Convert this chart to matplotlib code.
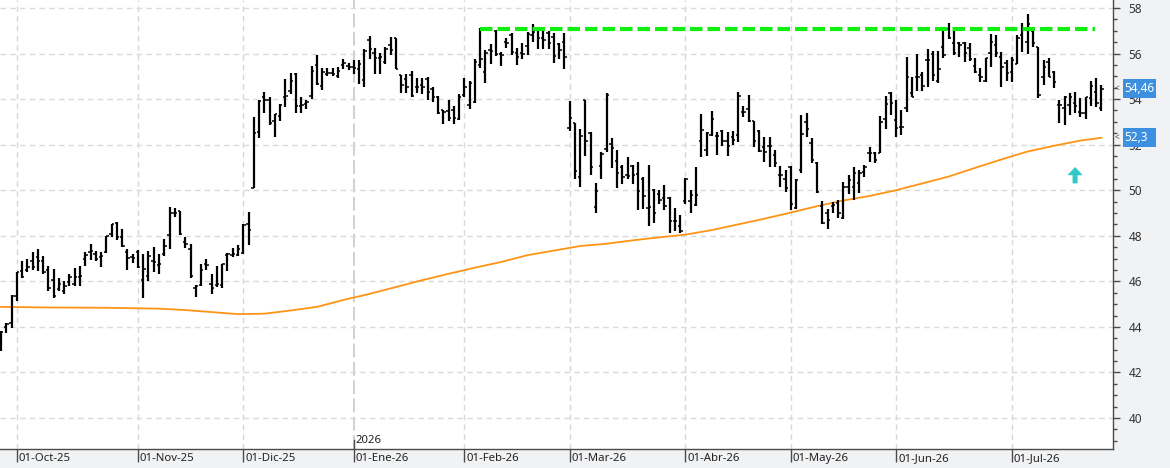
import matplotlib
matplotlib.use("Agg")
import matplotlib.pyplot as plt
import matplotlib.transforms as mtransforms
from matplotlib.patches import Rectangle
from matplotlib.ticker import MultipleLocator

plt.rcParams['font.family'] = ['Noto Sans', 'DejaVu Sans']

# daily OHLC, one bar per trading day (26-Sep-25 .. 24-Jul-26)
opens = [
    42.98, 44.00, 44.15, 45.35, 46.45, 46.49, 46.90, 47.08, 46.90, 46.49,
    46.05, 45.66, 45.58, 45.95, 45.88, 46.20, 46.98, 47.30, 47.20, 47.08,
    47.30, 48.07, 48.56, 47.93, 47.27, 47.05, 47.30, 46.05, 46.24, 46.90,
    46.73, 47.20, 48.03, 48.98, 49.07, 47.71, 47.43, 45.72, 45.82, 46.78,
    45.90, 45.82, 45.82, 47.14, 47.14, 47.14, 47.26, 48.50, 50.11, 52.56,
    54.07, 53.95, 53.03, 53.25, 54.07, 54.36, 55.12, 53.69, 53.80, 54.14,
    55.49, 54.57, 55.09, 55.15, 55.00, 55.49, 55.44, 55.41, 55.30, 54.86,
    56.61, 56.04, 55.81, 55.63, 56.37, 56.69, 55.05, 54.90, 55.05, 54.54,
    54.61, 54.90, 54.46, 54.07, 53.51, 53.48, 53.54, 53.14, 54.17, 53.73,
    53.88, 55.49, 55.17, 56.15, 56.99, 56.00, 56.51, 56.80, 56.03, 56.03,
    56.32, 56.80, 57.10, 56.66, 56.88, 56.73, 56.44, 56.51, 52.73, 52.95,
    50.60, 53.94, 52.51, 49.26, 51.07, 51.80, 52.04, 51.29, 51.01, 50.68,
    51.07, 50.72, 50.49, 49.21, 50.02, 49.83, 49.68, 49.65, 48.66, 48.45,
    49.51, 49.51, 49.36, 52.17, 51.77, 52.43, 52.39, 52.58, 52.17, 52.32,
    52.43, 53.43, 53.56, 53.02, 52.62, 51.91, 51.94, 51.55, 50.67, 50.48,
    51.04, 49.21, 50.89, 53.01, 52.06, 51.21, 49.31, 48.99, 49.31, 49.46,
    48.77, 50.16, 50.16, 50.31, 50.82, 51.65, 51.62, 51.62, 53.11, 54.28,
    53.08, 52.79, 53.59, 54.28, 54.98, 55.05, 55.71, 56.00, 54.80, 56.30,
    57.06, 56.48, 56.48, 56.45, 56.23, 55.45, 55.06, 54.81, 56.01, 56.37,
    55.83, 55.57, 55.20, 55.54, 56.81, 56.52, 57.00, 56.30, 54.95, 55.64,
    55.20, 53.74, 53.59, 53.74, 53.81, 53.45, 53.40, 54.03, 54.33, 53.59,
]
highs = [
    43.80, 44.15, 45.39, 46.42, 46.90, 46.98, 47.30, 47.44, 47.12, 46.68,
    46.54, 46.14, 46.03, 46.32, 46.60, 46.67, 47.27, 47.66, 47.34, 47.27,
    48.00, 48.51, 48.62, 48.29, 47.41, 47.20, 47.37, 47.20, 47.34, 47.52,
    47.20, 47.85, 49.27, 49.22, 49.10, 47.93, 47.63, 45.82, 46.78, 47.00,
    46.34, 46.67, 46.75, 47.26, 47.48, 47.61, 48.50, 49.03, 53.22, 53.95,
    54.32, 54.08, 53.36, 53.77, 54.90, 55.15, 55.15, 54.10, 53.95, 55.44,
    55.93, 55.37, 55.37, 55.37, 55.41, 55.75, 55.59, 55.71, 55.71, 56.22,
    56.76, 56.26, 56.03, 56.29, 56.73, 56.70, 55.05, 55.12, 55.24, 54.93,
    54.93, 54.95, 54.51, 54.13, 53.54, 53.95, 53.69, 54.24, 54.93, 54.78,
    55.78, 57.13, 56.15, 56.44, 57.03, 56.07, 56.66, 56.88, 56.26, 56.47,
    56.95, 57.29, 57.14, 57.10, 56.99, 56.91, 56.47, 56.88, 53.93, 52.97,
    52.68, 53.97, 52.54, 50.31, 51.66, 54.26, 52.29, 51.77, 51.12, 51.45,
    51.12, 51.26, 50.60, 51.12, 50.05, 50.02, 50.24, 49.72, 49.24, 48.92,
    50.53, 49.99, 51.00, 53.36, 52.54, 53.49, 52.54, 52.65, 52.54, 52.61,
    54.31, 53.68, 54.19, 53.06, 52.65, 52.32, 52.32, 51.77, 51.07, 50.89,
    51.07, 50.48, 53.30, 53.37, 52.28, 51.26, 49.53, 49.17, 49.50, 49.58,
    50.35, 50.67, 51.04, 50.89, 51.11, 51.88, 51.69, 53.26, 54.13, 54.32,
    53.96, 53.52, 55.85, 54.98, 55.97, 55.20, 56.18, 56.12, 56.12, 57.03,
    57.36, 57.03, 56.52, 56.52, 56.45, 55.79, 55.35, 55.79, 56.86, 56.81,
    56.08, 55.72, 55.86, 56.81, 57.33, 57.74, 57.00, 56.30, 55.72, 55.79,
    55.23, 53.96, 54.13, 54.28, 54.31, 54.03, 54.11, 54.79, 54.91, 54.62,
]
lows = [
    42.95, 43.75, 43.97, 45.15, 46.14, 46.39, 46.49, 46.46, 46.32, 45.58,
    45.29, 45.58, 45.44, 45.80, 45.78, 45.78, 46.68, 46.95, 46.90, 46.64,
    47.23, 47.93, 47.83, 47.49, 46.51, 46.79, 46.58, 45.25, 46.03, 46.39,
    46.32, 47.12, 47.44, 48.81, 48.03, 47.46, 46.16, 45.31, 45.79, 46.51,
    45.43, 45.75, 45.71, 46.45, 47.07, 47.11, 47.21, 47.61, 50.11, 52.31,
    53.39, 52.88, 52.34, 53.04, 53.66, 54.24, 53.39, 53.39, 53.55, 53.99,
    54.64, 54.42, 55.02, 55.02, 54.93, 55.34, 55.27, 55.12, 54.68, 54.54,
    55.74, 55.12, 55.12, 55.52, 55.93, 55.30, 54.27, 54.27, 54.07, 54.27,
    54.24, 53.95, 53.88, 53.34, 52.90, 53.04, 52.90, 53.10, 54.07, 53.58,
    53.85, 55.38, 54.71, 55.56, 55.88, 55.44, 56.25, 55.93, 55.49, 55.78,
    55.93, 56.51, 56.22, 56.22, 56.22, 55.59, 55.74, 55.30, 52.58, 50.50,
    50.16, 51.51, 50.68, 49.01, 50.50, 51.66, 50.98, 50.08, 50.28, 50.51,
    50.28, 49.14, 49.17, 48.41, 48.58, 49.40, 49.11, 48.14, 48.19, 48.11,
    49.40, 49.02, 49.29, 51.48, 51.51, 52.36, 51.56, 51.92, 51.51, 51.99,
    52.10, 53.21, 52.99, 51.89, 51.66, 51.26, 51.04, 51.04, 50.16, 49.90,
    49.14, 49.17, 50.74, 52.32, 51.18, 49.87, 48.53, 48.29, 48.99, 48.77,
    48.73, 49.84, 49.58, 49.87, 50.60, 51.26, 51.18, 51.62, 52.67, 53.30,
    52.35, 52.42, 53.45, 54.07, 54.35, 54.37, 54.54, 54.79, 54.69, 55.79,
    56.62, 55.94, 55.86, 55.64, 55.69, 55.13, 54.76, 54.76, 55.42, 55.86,
    54.54, 54.81, 54.76, 55.53, 56.08, 55.97, 56.30, 54.03, 54.62, 54.95,
    54.47, 52.96, 52.86, 53.30, 53.37, 53.20, 53.11, 53.70, 53.67, 53.49,
]
closes = [
    43.77, 44.12, 45.37, 46.39, 46.20, 46.64, 46.64, 46.90, 46.42, 45.70,
    45.37, 45.88, 45.80, 46.17, 46.17, 46.24, 47.15, 47.34, 46.98, 47.12,
    48.00, 48.51, 47.93, 47.56, 47.01, 47.01, 46.61, 46.54, 47.12, 46.83,
    46.74, 47.56, 48.98, 48.98, 48.07, 47.63, 46.22, 45.79, 46.51, 46.70,
    45.72, 45.90, 46.75, 47.21, 47.21, 47.43, 48.49, 48.24, 52.52, 53.92,
    53.95, 52.95, 53.34, 53.73, 54.13, 54.80, 53.69, 53.72, 53.89, 55.24,
    54.68, 55.19, 55.15, 55.12, 55.24, 55.59, 55.41, 55.38, 55.56, 56.10,
    56.22, 55.82, 55.85, 56.18, 56.15, 55.30, 54.61, 54.54, 54.13, 54.54,
    54.51, 54.32, 54.07, 53.39, 53.44, 53.17, 53.19, 54.07, 54.54, 54.71,
    55.63, 55.74, 56.03, 56.12, 55.97, 55.93, 56.47, 56.07, 55.85, 56.00,
    56.85, 56.95, 56.66, 56.59, 56.47, 55.88, 56.15, 55.85, 53.17, 50.85,
    52.36, 52.14, 51.01, 49.97, 51.60, 54.19, 51.85, 50.75, 50.60, 50.63,
    50.68, 49.97, 49.75, 49.26, 49.02, 49.58, 49.31, 48.67, 48.66, 48.19,
    50.49, 49.80, 49.80, 52.65, 52.51, 53.12, 52.39, 52.17, 51.95, 52.21,
    54.12, 53.43, 53.02, 52.17, 51.70, 51.69, 51.94, 51.21, 50.67, 50.09,
    49.40, 50.45, 52.45, 52.67, 51.33, 49.90, 48.58, 48.70, 49.36, 49.02,
    50.16, 50.45, 50.75, 50.75, 51.04, 51.65, 51.33, 53.01, 53.78, 53.81,
    52.72, 52.79, 54.98, 54.07, 54.98, 54.57, 55.71, 55.05, 55.30, 55.94,
    56.67, 56.01, 56.38, 56.01, 55.74, 55.20, 54.98, 55.79, 56.52, 56.04,
    55.42, 55.16, 55.72, 56.67, 57.11, 57.30, 56.48, 54.18, 55.42, 54.98,
    54.76, 53.74, 54.10, 54.10, 53.69, 53.40, 54.11, 54.59, 53.84, 54.46,
]

# long moving average, read every 5 bars
ma_idx = [0, 10, 20, 30, 35, 40, 45, 50, 55, 60, 65, 70, 75, 80, 85, 90, 95,
          100, 105, 110, 115, 120, 125, 130, 135, 140, 145, 150, 155, 160,
          165, 170, 175, 180, 185, 190, 195, 200, 205, 209]
ma_vals = [44.88, 44.85, 44.84, 44.80, 44.74, 44.65, 44.56, 44.58, 44.72,
           44.88, 45.18, 45.45, 45.75, 46.05, 46.33, 46.60, 46.85, 47.15,
           47.35, 47.55, 47.65, 47.80, 47.93, 48.05, 48.25, 48.50, 48.75,
           49.02, 49.30, 49.55, 49.75, 50.00, 50.30, 50.60, 50.98, 51.35,
           51.70, 51.95, 52.18, 52.30]

# first trading day of each month
month_idx = [3, 26, 46, 67, 88, 108, 130, 150, 170, 192]
month_labels = ['01-Oct-25', '01-Nov-25', '01-Dic-25', '01-Ene-26', '01-Feb-26',
                '01-Mar-26', '01-Abr-26', '01-May-26', '01-Jun-26', '01-Jul-26']
year_idx = 67
year_label = '2026'

# resistance line
res_level = 57.08
res_from, res_to = 91, 207.7

last_price = 54.46
last_ma = 52.3
arrow_x, arrow_y = 204, 50.3

fig = plt.figure(figsize=(11.7, 4.68), dpi=100)
fig.patch.set_facecolor('#f1f2f4')
ax = fig.add_axes([0, 19 / 468, 1113 / 1170, 449 / 468])
ax.set_facecolor('white')

ax.set_xlim(-0.2, 211.2)
ax.set_ylim(38.64, 58.35)

# grid
ax.grid(True, axis='y', color='#dadada', lw=1, linestyle=(0, (4, 3)), zorder=0)
for m in month_idx:
    if m == year_idx:
        ax.axvline(m, color='#c4c4c4', lw=1.1, linestyle=(0, (9, 3)), zorder=0)
    else:
        ax.axvline(m, color='#d8d8d8', lw=1, linestyle=(0, (4, 3)), zorder=0)

# bars
x = list(range(len(closes)))
ax.vlines(x, lows, highs, color='black', lw=1.6, zorder=3)
ax.hlines(opens, [i - 0.45 for i in x], x, color='black', lw=1.1, zorder=3)
ax.hlines(closes, x, [i + 0.45 for i in x], color='black', lw=1.1, zorder=3)

# moving average
ax.plot(ma_idx, ma_vals, color='#ff9414', lw=1.3, zorder=2)

# resistance
ax.plot([res_from, res_to], [res_level, res_level], color='#11ee11', lw=3,
        dashes=(3.0, 1.2), solid_capstyle='butt', dash_capstyle='butt', zorder=4)

# arrow
ax.arrow(arrow_x, arrow_y, 0, 0.36, width=0.95, head_width=2.9, head_length=0.36,
         color='#33c9c9', lw=0, zorder=4)

# axes look
for s in ['left', 'top']:
    ax.spines[s].set_visible(False)
for s in ['right', 'bottom']:
    ax.spines[s].set_color('#4a4a4a')
    ax.spines[s].set_linewidth(1)

ax.yaxis.tick_right()
ax.yaxis.set_major_locator(MultipleLocator(2))
ax.yaxis.set_minor_locator(MultipleLocator(0.5))
ax.tick_params(axis='y', which='major', length=5, width=1, color='#4a4a4a',
               pad=6, labelsize=8.5, labelcolor='#333333')
ax.tick_params(axis='y', which='minor', length=3, width=1, color='#4a4a4a')

ax.set_xticks(month_idx)
ax.tick_params(axis='x', length=9, width=1, color='#4a4a4a', labelbottom=False)

blend = mtransforms.blended_transform_factory(ax.transData, ax.transAxes)
lab_tr = mtransforms.offset_copy(blend, fig=fig, x=2, y=-4, units='dots')
for m, lab in zip(month_idx, month_labels):
    ax.text(m, 0, lab, transform=lab_tr, ha='left', va='top', fontsize=8.2,
            color='#222222', clip_on=False)

yr_tr = mtransforms.offset_copy(blend, fig=fig, x=2, y=3, units='dots')
ax.text(year_idx, 0, year_label, transform=yr_tr, ha='left', va='bottom',
        fontsize=8.2, color='#222222')
ax.plot([year_idx, year_idx], [0, 0.02], transform=blend, color='#4a4a4a', lw=1)

# price tags on the right axis
tag = mtransforms.blended_transform_factory(ax.transAxes, ax.transData)
for val, txt in [(last_price, '54,46'), (last_ma, '52,3')]:
    ax.add_patch(Rectangle((1.0087, val - 0.42), 0.0297, 0.84, transform=tag,
                           facecolor='#3d8fe0', edgecolor='none', clip_on=False,
                           zorder=5))
    ax.text(1.0105, val, txt, transform=tag, ha='left', va='center', fontsize=8.5,
            color='white', zorder=6, clip_on=False)
    ax.text(1.0015, val, '<', transform=tag, ha='left', va='center', fontsize=6,
            color='#444444', zorder=6, clip_on=False)

fig.savefig('out.png', dpi=100, facecolor=fig.get_facecolor())
